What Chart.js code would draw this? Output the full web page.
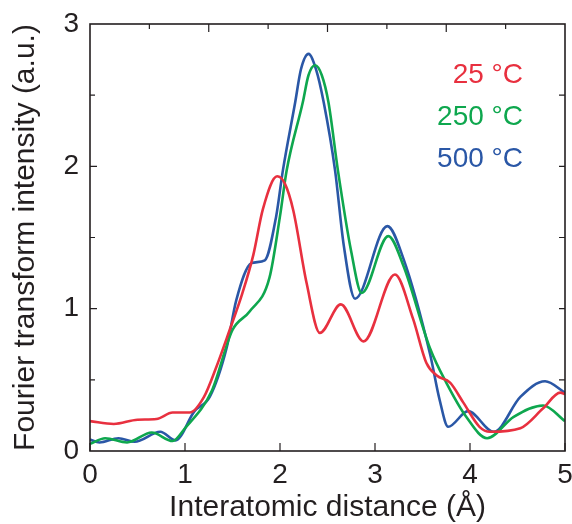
<!DOCTYPE html>
<html lang="en">
<head>
    <meta charset="UTF-8">
    <title>Fourier transform intensity</title>
    <script src="https://cdn.jsdelivr.net/npm/chart.js"></script>
    <style>
        html, body { margin: 0; padding: 0; background: #fff; }
        #wrap { width: 572px; height: 524px; }
    </style>
</head>
<body>
    <div id="wrap"><canvas id="graphique" width="572" height="524"></canvas></div>

    <script>
        // series (x in Å, y in a.u.)
        const labels = ['25 °C', '250 °C', '500 °C'];
        const colors = ['#e8303f', '#0ea74e', '#2a57a6'];

        const x25 = [0, 0.25, 0.5, 0.7, 0.87, 1.05, 1.2, 1.33, 1.47, 1.6, 1.72, 1.82, 1.97, 2.05, 2.14, 2.28, 2.42, 2.64, 2.88, 3.21, 3.4, 3.54, 3.65, 3.79, 3.93, 4.1, 4.21, 4.53, 4.77, 4.95, 5];
        const y25 = [0.21, 0.19, 0.22, 0.225, 0.27, 0.27, 0.38, 0.59, 0.85, 1.1, 1.38, 1.7, 1.93, 1.88, 1.69, 1.18, 0.83, 1.03, 0.77, 1.24, 0.93, 0.62, 0.53, 0.48, 0.34, 0.17, 0.135, 0.16, 0.30, 0.41, 0.40];

        const x250 = [0, 0.16, 0.39, 0.65, 0.87, 1.0, 1.28, 1.5, 1.68, 1.89, 2.0, 2.07, 2.24, 2.3, 2.37, 2.44, 2.51, 2.61, 2.75, 2.86, 3.14, 3.3, 3.58, 3.75, 3.96, 4.18, 4.46, 4.77, 5];
        const y250 = [0.05, 0.09, 0.06, 0.13, 0.07, 0.16, 0.42, 0.85, 0.98, 1.22, 1.65, 1.97, 2.45, 2.64, 2.71, 2.64, 2.45, 1.97, 1.4, 1.11, 1.51, 1.3, 0.72, 0.48, 0.24, 0.09, 0.24, 0.32, 0.21];

        const x500 = [0, 0.1, 0.3, 0.47, 0.74, 0.9, 1.1, 1.26, 1.44, 1.54, 1.7, 1.84, 1.96, 2.03, 2.16, 2.22, 2.3, 2.38, 2.46, 2.58, 2.67, 2.79, 3.13, 3.3, 3.58, 3.68, 3.77, 3.98, 4.25, 4.53, 4.79, 5];
        const y500 = [0.08, 0.06, 0.09, 0.065, 0.135, 0.075, 0.28, 0.38, 0.73, 1.06, 1.32, 1.34, 1.65, 1.97, 2.45, 2.68, 2.79, 2.68, 2.45, 1.97, 1.45, 1.07, 1.58, 1.35, 0.68, 0.36, 0.17, 0.28, 0.135, 0.38, 0.49, 0.41];

        const xTicks = [0, 1, 2, 3, 4, 5];
        const yTicks = [0, 1, 2, 3];

        const ink = '#231f20';
        const font = 'Liberation Sans, Arial, Helvetica, sans-serif';

        function pts(xs, ys) {
            return xs.map((x, i) => ({ x: x, y: ys[i] }));
        }

        // box with inward ticks, drawn from the scales
        const framePlugin = {
            id: 'frame',
            afterDatasetsDraw(chart) {
                const ctx = chart.ctx;
                const a = chart.chartArea;
                const xs = chart.scales.x;
                const ys = chart.scales.y;
                ctx.save();
                ctx.strokeStyle = ink;
                ctx.lineWidth = 1.6;
                ctx.strokeRect(a.left, a.top, a.right - a.left, a.bottom - a.top);
                ctx.lineWidth = 1.2;
                ctx.beginPath();
                // bottom
                xTicks.forEach(v => {
                    const px = xs.getPixelForValue(v);
                    ctx.moveTo(px, a.bottom); ctx.lineTo(px, a.bottom - 8);
                });
                // top: 8 divisions
                for (let i = 1; i < 8; i++) {
                    const px = a.left + (a.right - a.left) * i / 8;
                    const len = i % 2 === 0 ? 8 : 5;
                    ctx.moveTo(px, a.top); ctx.lineTo(px, a.top + len);
                }
                // left: major + half, right: every half
                for (let v = 0.5; v < 3; v += 0.5) {
                    const py = ys.getPixelForValue(v);
                    const len = v % 1 === 0 ? 7 : 5;
                    ctx.moveTo(a.left, py); ctx.lineTo(a.left + len, py);
                    ctx.moveTo(a.right, py); ctx.lineTo(a.right - 6, py);
                }
                ctx.stroke();
                ctx.restore();
            }
        };

        const legendPlugin = {
            id: 'textLegend',
            afterDraw(chart) {
                const ctx = chart.ctx;
                ctx.save();
                ctx.font = '28px ' + font;
                ctx.textAlign = 'right';
                ctx.textBaseline = 'alphabetic';
                chart.data.datasets.forEach((ds, i) => {
                    ctx.fillStyle = ds.borderColor;
                    ctx.fillText(ds.label, 523, 83 + i * 42);
                });
                ctx.restore();
            }
        };

        const datasets = [
            { label: labels[0], data: pts(x25, y25), borderColor: colors[0] },
            { label: labels[1], data: pts(x250, y250), borderColor: colors[1] },
            { label: labels[2], data: pts(x500, y500), borderColor: colors[2] }
        ].map(d => Object.assign(d, {
            borderWidth: 2.6,
            pointRadius: 0,
            fill: false,
            cubicInterpolationMode: 'monotone'
        }));

        new Chart(document.getElementById('graphique'), {
            type: 'line',
            data: { datasets: datasets },
            options: {
                responsive: false,
                animation: false,
                layout: { padding: { top: 24, right: 7, left: 0, bottom: 0 } },
                plugins: { legend: { display: false }, tooltip: { enabled: false } },
                scales: {
                    x: {
                        type: 'linear',
                        min: 0, max: 5,
                        afterBuildTicks: s => { s.ticks = xTicks.map(v => ({ value: v })); },
                        afterFit: s => { s.height = 73; s.paddingLeft = 0; s.paddingRight = 0; },
                        grid: { display: false },
                        border: { display: false },
                        ticks: { color: ink, font: { family: font, size: 28 }, padding: -1, maxRotation: 0 },
                        title: { display: true, text: 'Interatomic distance (Å)', color: ink, font: { family: font, size: 30 }, padding: { top: 0, bottom: -2 } }
                    },
                    y: {
                        min: 0, max: 3,
                        afterBuildTicks: s => { s.ticks = yTicks.map(v => ({ value: v })); },
                        afterFit: s => { s.width = 90; s.paddingTop = 0; s.paddingBottom = 0; },
                        grid: { display: false },
                        border: { display: false },
                        ticks: { color: ink, font: { family: font, size: 28 }, padding: 3 },
                        title: { display: true, text: 'Fourier transform intensity (a.u.)', color: ink, font: { family: font, size: 30 }, padding: { top: 8, bottom: 0 } }
                    }
                }
            },
            plugins: [framePlugin, legendPlugin]
        });
    </script>
</body>
</html>
